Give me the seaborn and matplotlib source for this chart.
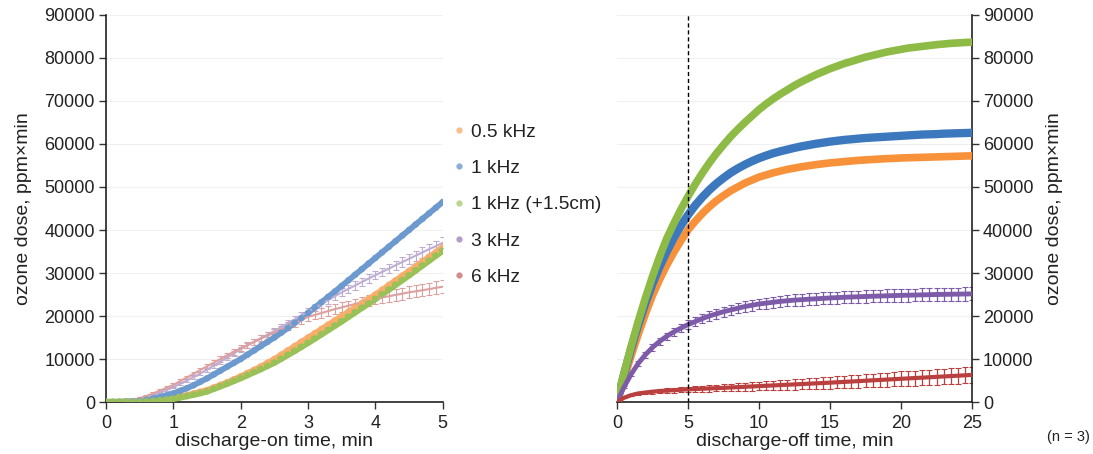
import numpy as np
import pandas as pd
import matplotlib
matplotlib.use("Agg")
import matplotlib.pyplot as plt
import matplotlib.colors as mcolors
import seaborn as sns

# ---------------- data ----------------
series_names = ["0.5 kHz", "1 kHz", "1 kHz (+1.5cm)", "3 kHz", "6 kHz"]
colors = ["#F7923A", "#3C78BE", "#8DBB45", "#7D5BA8", "#B9403F"]

# discharge-on (left), t = 0..5 min, step 0.1
t_on = [round(0.1 * i, 1) for i in range(51)]
on_05k = [0, 10, 20, 50, 100, 150, 250, 400, 580, 780, 1000, 1300, 1600, 2000, 2400, 2800,
          3400, 4000, 4600, 5300, 6000, 6750, 7500, 8300, 9150, 10000, 11000, 12000, 13000,
          14000, 15000, 16000, 17000, 18000, 19000, 20000, 21000, 22000, 23000, 24000, 25000,
          26100, 27200, 28300, 29400, 30500, 31600, 32700, 33800, 34900, 36000]
on_1k = [0, 20, 50, 100, 180, 300, 500, 800, 1150, 1550, 2000, 2600, 3200, 3900, 4700, 5500,
         6400, 7300, 8200, 9100, 10000, 11000, 12000, 13000, 14000, 15000, 16100, 17200, 18400,
         19500, 20700, 21950, 23200, 24450, 25700, 27000, 28300, 29600, 30900, 32200, 33500,
         34800, 36100, 37400, 38700, 40000, 41300, 42600, 43900, 45200, 46500]
on_1k15 = [0, 5, 15, 35, 65, 100, 180, 300, 450, 620, 800, 1100, 1400, 1750, 2100, 2500, 3100,
           3700, 4300, 4950, 5600, 6300, 7000, 7700, 8450, 9200, 10100, 11000, 11900, 12850,
           13800, 14800, 15800, 16800, 17800, 18800, 19850, 20900, 21950, 22950, 24000, 25100,
           26200, 27300, 28400, 29500, 30650, 31800, 32950, 34100, 35200]
on_3k = [0, 30, 100, 250, 480, 800, 1200, 1700, 2250, 2850, 3500, 4250, 5000, 5800, 6650, 7500,
         8450, 9400, 10350, 11300, 12300, 13150, 14000, 14850, 15700, 16500, 17400, 18300, 19200,
         20100, 21000, 21900, 22800, 23700, 24600, 25500, 26300, 27100, 27900, 28700, 29500,
         30250, 31000, 31800, 32550, 33300, 34050, 34800, 35550, 36250, 37000]
on_6k = [0, 40, 130, 300, 560, 900, 1400, 2000, 2650, 3300, 4000, 4850, 5700, 6550, 7450, 8300,
         9150, 10000, 10850, 11700, 12500, 13250, 14000, 14750, 15450, 16150, 16900, 17600,
         18300, 19050, 19800, 20250, 20700, 21150, 21600, 22000, 22400, 22800, 23200, 23600,
         24000, 24300, 24600, 24900, 25200, 25500, 25750, 26000, 26250, 26550, 26800]
on_3k_err = [0, 10, 30, 60, 100, 150, 180, 210, 240, 270, 300, 330, 360, 390, 420, 450, 480,
             510, 540, 570, 600, 620, 640, 660, 680, 700, 720, 740, 760, 780, 800, 820, 840,
             860, 880, 900, 920, 940, 960, 980, 1000, 1030, 1060, 1090, 1120, 1150, 1180, 1210,
             1240, 1270, 1300]
on_6k_err = [0, 15, 40, 80, 130, 180, 230, 280, 320, 360, 400, 430, 460, 490, 520, 550, 580,
             610, 640, 670, 700, 730, 760, 790, 820, 850, 880, 910, 940, 970, 1000, 1030, 1060,
             1090, 1120, 1150, 1180, 1210, 1240, 1270, 1300, 1320, 1340, 1360, 1380, 1400, 1420,
             1440, 1460, 1480, 1500]

# discharge-off (right), t = 0..25 min, step 0.5
t_off = [0.5 * i for i in range(51)]
off_05k = [0, 5500, 10800, 15800, 20500, 24800, 28500, 31800, 34800, 37500, 40000, 42000, 43800,
           45400, 46800, 48000, 49100, 50000, 50900, 51600, 52300, 52800, 53300, 53700, 54100,
           54400, 54700, 54950, 55200, 55400, 55600, 55750, 55900, 56050, 56200, 56300, 56400,
           56500, 56600, 56650, 56750, 56800, 56850, 56900, 56950, 57000, 57050, 57100, 57150,
           57200, 57250]
off_1k = [0, 6500, 12500, 18000, 23000, 27500, 31500, 35000, 38200, 41000, 43500, 45700, 47600,
          49300, 50800, 52100, 53300, 54300, 55200, 56000, 56700, 57300, 57850, 58300, 58700,
          59100, 59450, 59750, 60050, 60300, 60550, 60750, 60950, 61100, 61250, 61400, 61500,
          61600, 61700, 61800, 61900, 62000, 62100, 62200, 62250, 62300, 62400, 62450, 62500,
          62550, 62600]
off_1k15 = [0, 6800, 13000, 18800, 24200, 29200, 33800, 38000, 41500, 44800, 47800, 50600, 53200,
            55600, 57800, 59800, 61700, 63400, 65000, 66500, 68000, 69300, 70500, 71600, 72600,
            73600, 74500, 75300, 76100, 76800, 77500, 78100, 78700, 79200, 79700, 80200, 80600,
            81000, 81400, 81700, 82000, 82300, 82500, 82700, 82900, 83100, 83250, 83400, 83500,
            83600, 83700]
off_3k = [0, 3500, 6500, 9000, 11000, 12700, 14100, 15300, 16300, 17200, 18000, 18700, 19400,
          20000, 20500, 21000, 21400, 21800, 22200, 22500, 22800, 23000, 23200, 23400, 23550,
          23700, 23800, 23900, 24000, 24100, 24200, 24280, 24350, 24420, 24480, 24540, 24600,
          24650, 24700, 24750, 24800, 24840, 24880, 24920, 24960, 25000, 25030, 25060, 25090,
          25120, 25150]
off_6k = [0, 1000, 1600, 2000, 2200, 2400, 2550, 2650, 2750, 2850, 2950, 3020, 3090, 3160, 3230,
          3300, 3380, 3460, 3540, 3620, 3700, 3780, 3860, 3940, 4020, 4100, 4180, 4260, 4340,
          4420, 4500, 4590, 4680, 4770, 4860, 4950, 5040, 5130, 5220, 5310, 5400, 5490, 5580,
          5670, 5760, 5850, 5940, 6030, 6120, 6210, 6300]
off_3k_err = [0, 300, 500, 600, 700, 750, 800, 850, 900, 950, 1000, 1030, 1060, 1090, 1120, 1150,
              1170, 1190, 1210, 1230, 1250, 1270, 1290, 1310, 1330, 1350, 1360, 1370, 1380, 1390,
              1400, 1410, 1420, 1430, 1440, 1450, 1455, 1460, 1465, 1470, 1475, 1480, 1485, 1490,
              1495, 1500, 1505, 1510, 1515, 1520, 1525]
off_6k_err = [0, 150, 300, 350, 400, 450, 480, 510, 540, 570, 600, 640, 680, 720, 760, 800, 840,
              880, 920, 960, 1000, 1040, 1080, 1120, 1160, 1200, 1240, 1280, 1320, 1360, 1400,
              1430, 1460, 1490, 1520, 1550, 1580, 1610, 1640, 1670, 1700, 1720, 1740, 1760, 1780,
              1800, 1820, 1840, 1860, 1880, 1900]

yticks = [0, 10000, 20000, 30000, 40000, 50000, 60000, 70000, 80000, 90000]

# ---------------- frames ----------------
def long_frame(t, arrays):
    rows = []
    for name, arr in zip(series_names, arrays):
        rows.append(pd.DataFrame({"t": t, "dose": arr, "series": name}))
    return pd.concat(rows, ignore_index=True)

def lighten(c, f):
    r = np.array(mcolors.to_rgb(c))
    return tuple(r + (1 - r) * f)

df_on = long_frame(t_on, [on_05k, on_1k, on_1k15, on_3k, on_6k])
df_off = long_frame(t_off, [off_05k, off_1k, off_1k15, off_3k, off_6k])
light_f = {"0.5 kHz": 0.25, "1 kHz": 0.25, "1 kHz (+1.5cm)": 0.1, "3 kHz": 0.5, "6 kHz": 0.5}
pal_off = dict(zip(series_names, colors))
pal_on = {n: lighten(c, light_f[n]) for n, c in zip(series_names, colors)}

sns.set_theme(style="white")
plt.rcParams["font.family"] = ["Liberation Sans", "DejaVu Sans"]

fig = plt.figure(figsize=(10.93, 4.54), dpi=100)
axL = fig.add_axes([0.097, 0.1145, 0.308, 0.8525])
axR = fig.add_axes([0.5645, 0.1145, 0.3248, 0.8525])

# ---- left panel (pale) ----
for name, err in [("3 kHz", on_3k_err), ("6 kHz", on_6k_err)]:
    vals = df_on[df_on.series == name]
    axL.errorbar(vals.t, vals.dose, yerr=err, fmt="none", ecolor=pal_on[name],
                 elinewidth=0.8, capsize=2.4, capthick=0.8, zorder=2)
lw_on = {"0.5 kHz": 4.0, "1 kHz": 4.2, "1 kHz (+1.5cm)": 4.8, "3 kHz": 1.5, "6 kHz": 1.5}
for name in series_names:
    sub = df_on[df_on.series == name]
    sns.lineplot(data=sub, x="t", y="dose", color=pal_on[name], ax=axL,
                 linewidth=lw_on[name], legend=False, zorder=3, errorbar=None)
sns.scatterplot(data=df_on[df_on.series.isin(["0.5 kHz", "1 kHz", "1 kHz (+1.5cm)"])],
                x="t", y="dose", hue="series", palette=pal_on, ax=axL,
                s=22, linewidth=0, legend=False, zorder=3)

# ---- right panel (saturated) ----
for name, err in [("3 kHz", off_3k_err), ("6 kHz", off_6k_err)]:
    vals = df_off[df_off.series == name]
    axR.errorbar(vals.t, vals.dose, yerr=err, fmt="none", ecolor=pal_off[name],
                 elinewidth=0.9, capsize=2.0, capthick=0.8, zorder=2)
lw_off = {"0.5 kHz": 5.5, "1 kHz": 6.0, "1 kHz (+1.5cm)": 5.5, "3 kHz": 3.5, "6 kHz": 3.0}
for name in series_names:
    sub = df_off[df_off.series == name]
    sns.lineplot(data=sub, x="t", y="dose", color=pal_off[name], ax=axR,
                 linewidth=lw_off[name], legend=False, zorder=3, errorbar=None)
axR.axvline(5, color="black", linestyle=(0, (3, 2)), linewidth=1.0, zorder=4)

# ---- axes styling ----
for ax in (axL, axR):
    ax.set_ylim(0, 90000)
    ax.set_yticks(yticks)
    ax.yaxis.grid(True, color="#F0F0F0", linewidth=0.8)
    ax.set_axisbelow(True)
    ax.tick_params(axis="both", labelsize=13, length=5, width=1.0, color="#333333",
                   direction="out", labelcolor="#222222")
    ax.tick_params(axis="y", pad=3)
    ax.tick_params(axis="x", pad=4)
    for s in ax.spines.values():
        s.set_color("#222222")
        s.set_linewidth(1.2)

axL.set_xlim(0, 5)
axL.set_xticks([0, 1, 2, 3, 4, 5])
axL.spines["top"].set_visible(False)
axL.spines["right"].set_visible(False)
axL.tick_params(left=True, bottom=True)
axL.set_xlabel("discharge-on time, min", fontsize=14, labelpad=1, color="#222222")
axL.set_ylabel("ozone dose, ppm×min", fontsize=14, labelpad=9, color="#222222")

axR.set_xlim(0, 25)
axR.set_xticks([0, 5, 10, 15, 20, 25])
axR.spines["top"].set_visible(False)
axR.spines["left"].set_visible(False)
axR.yaxis.tick_right()
axR.yaxis.set_label_position("right")
axR.tick_params(right=True, left=False, bottom=True)
axR.set_xlabel("discharge-off time, min", fontsize=14, labelpad=1, color="#222222")
axR.set_ylabel("ozone dose, ppm×min", fontsize=14, labelpad=9, color="#222222")

handles = [plt.Line2D([], [], marker="o", linestyle="", markersize=4.5,
                      markerfacecolor=lighten(c, 0.4), markeredgewidth=0) for c in colors]
leg = axL.legend(handles, series_names, loc="center left", bbox_to_anchor=(1.03, 0.51),
                 frameon=False, fontsize=13.8, handlelength=0.6, handletextpad=0.35,
                 labelspacing=0.98, borderaxespad=0, borderpad=0)
for t in leg.get_texts():
    t.set_color("#222222")

fig.text(0.997, 0.037, "(n = 3)", ha="right", va="center", fontsize=10.5, color="#222222")

fig.savefig("out.png", dpi=100)
